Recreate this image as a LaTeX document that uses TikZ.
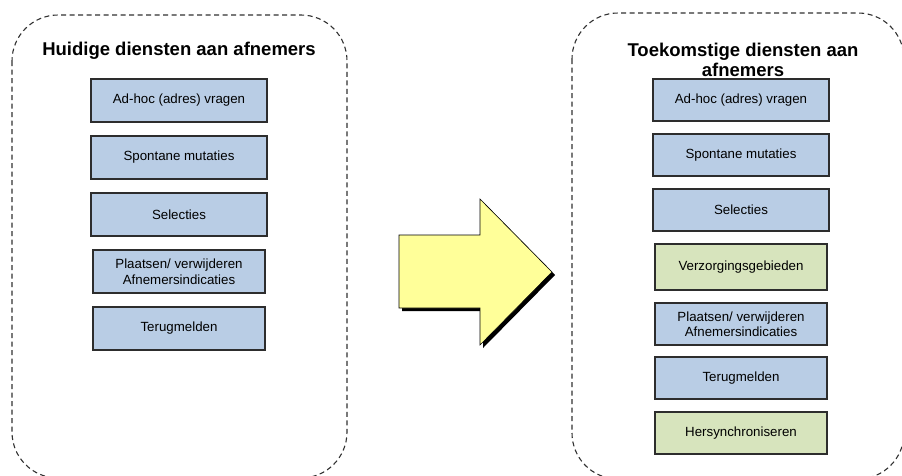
\documentclass[tikz,border=0pt]{standalone}
\usepackage{fontspec}
\setmainfont{Liberation Sans}
\definecolor{boxblue}{RGB}{185,205,229}
\definecolor{boxgreen}{RGB}{215,228,189}
\definecolor{arrowyellow}{RGB}{255,255,153}
\definecolor{edgegray}{RGB}{45,45,45}
\definecolor{dashgray}{RGB}{50,50,50}
\tikzset{
  group/.style={draw=dashgray, line width=1.1pt, dash pattern=on 5pt off 3.5pt, rounded corners=46pt},
  svc/.style={draw=edgegray, line width=1.2pt, minimum width=176pt, minimum height=43pt, inner sep=0pt, align=center, font=\fontsize{13.3}{15.5}\selectfont},
  svcblue/.style={svc, fill=boxblue},
  svcgreen/.style={svc, fill=boxgreen},
  title/.style={font=\fontsize{18.5}{20}\selectfont\bfseries, align=center, inner sep=0pt},
}
\begin{document}
\begin{tikzpicture}[x=1pt,y=-1pt]
\useasboundingbox (0,0) rectangle (902,475);
\clip (0,0) rectangle (902,475);
\fill[white] (0,0) rectangle (902,475);
% groups
\draw[group] (12,15) rectangle (347,478);
\draw[group] (572,13) rectangle (904,479);
% titles
\node[title, anchor=base] (t1) at (179,55) {Huidige diensten aan afnemers};
\node[title, anchor=base] (t2) at (743,76) {Toekomstige diensten aan\\afnemers};
% left boxes
\node[svcblue] (l1) at (179,100.5) {Ad-hoc (adres) vragen};
\node[svcblue] (l2) at (179,157.5) {Spontane mutaties};
\node[svcblue] (l3) at (179,214.5) {Selecties};
\node[svcblue, minimum width=172pt] (l4) at (179,271.5) {Plaatsen/ verwijderen\\Afnemersindicaties};
\node[svcblue, minimum width=172pt] (l5) at (179,328.5) {Terugmelden};
% right boxes
\node[svcblue, minimum height=42pt] (r1) at (741,100) {Ad-hoc (adres) vragen};
\node[svcblue, minimum height=42pt] (r2) at (741,155) {Spontane mutaties};
\node[svcblue, minimum height=42pt] (r3) at (741,210) {Selecties};
\node[svcgreen, minimum width=172pt, minimum height=46pt] (r4) at (741,267) {Verzorgingsgebieden};
\node[svcblue, minimum width=172pt, minimum height=42pt] (r5) at (741,324) {Plaatsen/ verwijderen\\Afnemersindicaties};
\node[svcblue, minimum width=172pt, minimum height=42pt] (r6) at (741,378) {Terugmelden};
\node[svcgreen, minimum width=172pt, minimum height=42pt] (r7) at (741,433) {Hersynchroniseren};
% big arrow with shadow
\fill[black] (402,238) -- (483,238) -- (483,202) -- (555,275) -- (483,348) -- (483,311) -- (402,311) -- cycle;
\draw[fill=arrowyellow, draw=black, line width=0.6pt] (399,235) -- (480,235) -- (480,199) -- (552,272) -- (480,345) -- (480,308) -- (399,308) -- cycle;
\end{tikzpicture}
\end{document}
